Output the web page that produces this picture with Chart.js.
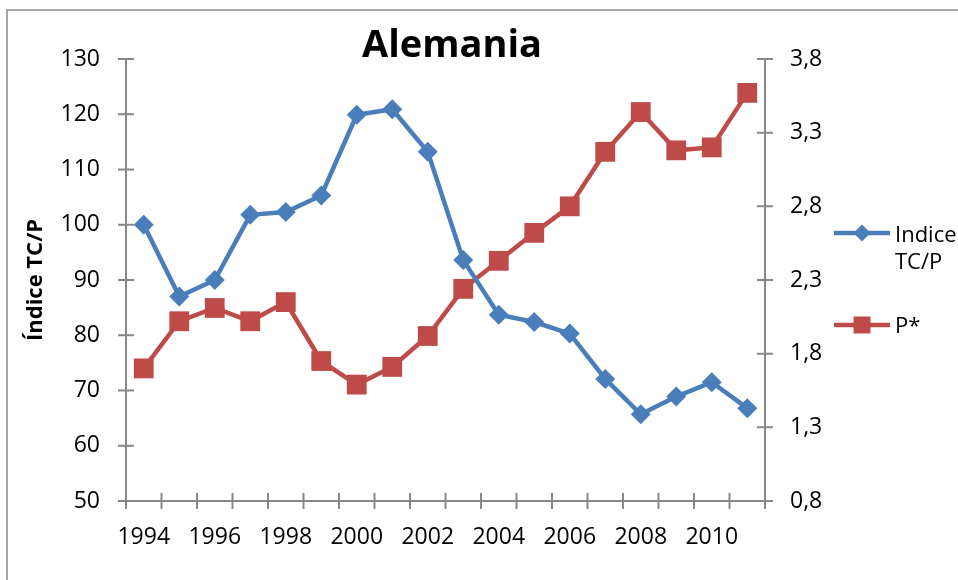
<!DOCTYPE html>
<html>
<head>
<meta charset="utf-8">
<script src="https://cdn.jsdelivr.net/npm/chart.js@4.4.1/dist/chart.umd.min.js"></script>
<style>
    html, body { margin: 0; padding: 0; background: #fff; }
    #contenedor { width: 958px; height: 580px; position: relative; }
</style>
</head>
<body>
<div id="contenedor"><canvas id="grafica" width="958" height="580"></canvas></div>
<script>
// datos
const anios = ['1994','1995','1996','1997','1998','1999','2000','2001','2002',
               '2003','2004','2005','2006','2007','2008','2009','2010','2011'];
const indiceTCP = [100, 87, 90, 101.8, 102.3, 105.3, 119.9, 120.9, 113.2,
                   93.6, 83.7, 82.4, 80.3, 72.1, 65.7, 68.9, 71.5, 66.8];
const pEstrella = [1.70, 2.02, 2.11, 2.02, 2.15, 1.75, 1.59, 1.71, 1.92,
                   2.24, 2.43, 2.62, 2.80, 3.17, 3.44, 3.18, 3.20, 3.57];
const ticksIzq = { min: 50, max: 130, paso: 10 };
const ticksDer = { min: 0.8, max: 3.8, paso: 0.5 };

const azul = '#4A7EBB';
const rojo = '#BE4B48';
const gris = '#878787';
const fuente = '"Open Sans", "Liberation Sans", sans-serif';

// marco, marcas de los ejes, titulo y leyenda
const extras = {
    id: 'extras',
    beforeDraw(chart) {
        const ctx = chart.ctx;
        ctx.save();
        ctx.strokeStyle = '#8a8a8a';
        ctx.lineWidth = 1.5;
        ctx.strokeRect(7, 10, 1200, 1200);
        ctx.restore();
    },
    afterDraw(chart) {
        const ctx = chart.ctx;
        const x = chart.scales.x, yI = chart.scales.yIzq, yD = chart.scales.yDer;
        ctx.save();
        ctx.strokeStyle = gris;
        ctx.lineWidth = 2;
        ctx.beginPath();
        yI.ticks.forEach((t, i) => {
            const py = yI.getPixelForTick(i);
            ctx.moveTo(yI.right - 8, py); ctx.lineTo(yI.right + 8, py);
        });
        yD.ticks.forEach((t, i) => {
            const py = yD.getPixelForTick(i);
            ctx.moveTo(yD.left - 8, py); ctx.lineTo(yD.left + 8, py);
        });
        for (let i = 0; i <= anios.length; i++) {
            const px = x.getPixelForValue(i - 0.5);
            ctx.moveTo(px, x.top - 8); ctx.lineTo(px, x.top + 8);
        }
        ctx.stroke();

        // titulo
        ctx.fillStyle = '#000';
        ctx.font = 'bold 38px ' + fuente;
        ctx.textAlign = 'center';
        ctx.textBaseline = 'alphabetic';
        ctx.fillText('Alemania', 452, 57);

        // leyenda
        const items = [
            { ds: 0, y: 233, lineas: ['Indice', 'TC/P'], base: 242 },
            { ds: 1, y: 325, lineas: ['P*'], base: 333 }
        ];
        ctx.font = '22px ' + fuente;
        ctx.textAlign = 'left';
        items.forEach(it => {
            const d = chart.data.datasets[it.ds];
            ctx.strokeStyle = d.borderColor;
            ctx.lineWidth = d.borderWidth;
            ctx.beginPath();
            ctx.moveTo(834, it.y); ctx.lineTo(890, it.y);
            ctx.stroke();
            ctx.fillStyle = d.backgroundColor;
            Chart.helpers.drawPoint(ctx, {
                pointStyle: d.pointStyle,
                radius: d.pointStyle === 'rect' ? 12 : 8.5,
                borderWidth: 0,
                rotation: 0
            }, 862, it.y);
            ctx.fillStyle = '#000';
            it.lineas.forEach((t, k) => ctx.fillText(t, 895, it.base + k * 27));
        });
        ctx.restore();
    }
};

const ctx = document.getElementById('grafica').getContext('2d');
const chart = new Chart(ctx, {
    type: 'line',
    data: {
        labels: anios,
        datasets: [{
            label: 'Indice TC/P',
            data: indiceTCP,
            yAxisID: 'yIzq',
            borderColor: azul,
            backgroundColor: azul,
            borderWidth: 4.5,
            pointStyle: 'rectRot',
            pointRadius: 10,
            pointBorderWidth: 0,
            tension: 0
        }, {
            label: 'P*',
            data: pEstrella,
            yAxisID: 'yDer',
            borderColor: rojo,
            backgroundColor: rojo,
            borderWidth: 4.5,
            pointStyle: 'rect',
            pointRadius: 14,
            pointBorderWidth: 0,
            tension: 0
        }]
    },
    options: {
        responsive: false,
        animation: false,
        layout: { padding: { left: 0, right: 0, top: 59, bottom: 0 } },
        plugins: {
            legend: { display: false },
            title: { display: false },
            tooltip: { enabled: false }
        },
        scales: {
            x: {
                offset: true,
                grid: { display: false, drawTicks: false, offset: true },
                border: { display: true, color: gris, width: 2 },
                ticks: {
                    autoSkip: false,
                    maxRotation: 0,
                    padding: 23,
                    color: '#000',
                    font: { family: fuente, size: 23 },
                    callback: function (v, i) { return i % 2 === 0 ? anios[i] : ''; }
                },
                afterFit: s => { s.height = 79; }
            },
            yIzq: {
                position: 'left',
                min: ticksIzq.min,
                max: ticksIzq.max,
                grid: { display: false, drawTicks: false },
                border: { display: true, color: gris, width: 2 },
                ticks: {
                    stepSize: ticksIzq.paso,
                    padding: 26,
                    color: '#000',
                    font: { family: fuente, size: 23 }
                },
                title: {
                    display: true,
                    text: 'Índice TC/P',
                    color: '#000',
                    font: { family: fuente, size: 22, weight: 'bold' },
                    padding: { top: 23, bottom: 0 }
                },
                afterFit: s => { s.width = 126; }
            },
            yDer: {
                position: 'right',
                min: ticksDer.min,
                max: ticksDer.max,
                grid: { display: false, drawTicks: false },
                border: { display: true, color: gris, width: 2 },
                ticks: {
                    stepSize: ticksDer.paso,
                    padding: 25,
                    color: '#000',
                    font: { family: fuente, size: 23 },
                    callback: v => v.toFixed(1).replace('.', ',')
                },
                afterFit: s => { s.width = 193; }
            }
        }
    },
    plugins: [extras]
});
</script>
</body>
</html>
